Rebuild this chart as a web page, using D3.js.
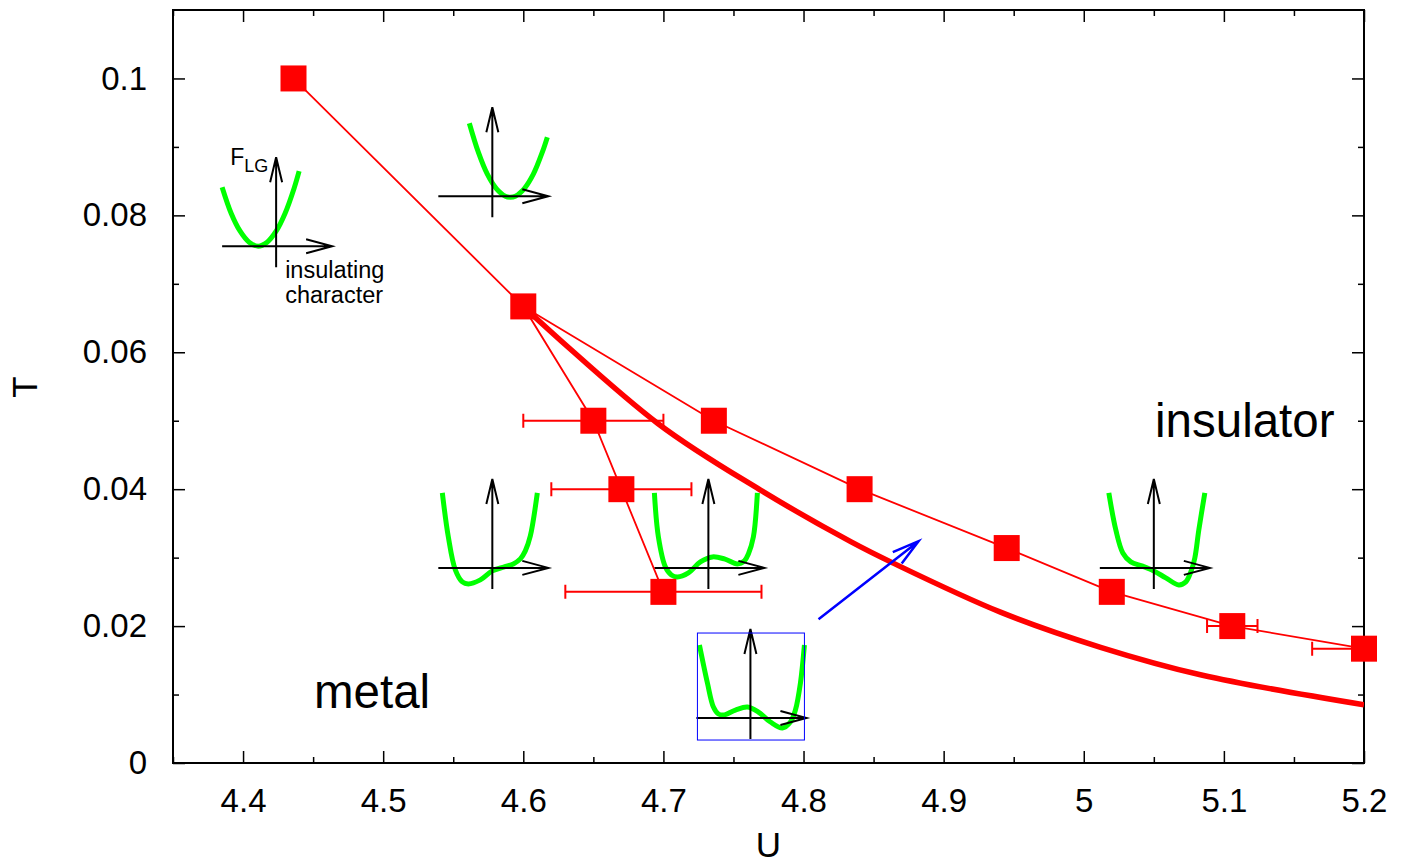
<!DOCTYPE html>
<html>
<head>
<meta charset="utf-8">
<script src="https://cdn.jsdelivr.net/npm/d3@7"></script>
<style>
  body { margin: 0; background: #fff; }
  svg { display: block; font-family: "Liberation Sans", Arial, Helvetica, sans-serif; }
  .tick line { stroke: #000; stroke-width: 1.5; }
  .tick text { fill: #000; }
</style>
</head>
<body>
<div id="chart"></div>
<script>
  // left branch (with error bars)
  const uLeft = [4.436, 4.6, 4.65, 4.67, 4.70];
  const tLeft = [0.1, 0.0667, 0.05, 0.04, 0.025];
  const errLeft = [0, 0, 0.05, 0.05, 0.07];

  // right branch
  const uRight = [4.6, 4.736, 4.84, 4.945, 5.02, 5.106, 5.2];
  const tRight = [0.0667, 0.05, 0.04, 0.0314, 0.025, 0.02, 0.0167];
  const errRight = [0, 0, 0, 0, 0, 0.018, 0.037];

  // thick curve
  const uCurve = [4.6, 4.696, 4.769, 4.834, 4.864, 4.941, 5.012, 5.084, 5.2];
  const tCurve = [0.0667, 0.0496, 0.0399, 0.0323, 0.0292, 0.022, 0.0169, 0.01285, 0.0085];

  const xMajor = [4.4, 4.5, 4.6, 4.7, 4.8, 4.9, 5, 5.1, 5.2];
  const xMinor = [4.35, 4.45, 4.55, 4.65, 4.75, 4.85, 4.95, 5.05, 5.15];
  const yMajor = [0, 0.02, 0.04, 0.06, 0.08, 0.1];
  const yMinor = [0.01, 0.03, 0.05, 0.07, 0.09];

  // little free energy sketches: origin in (U, T), shape in pixel offsets
  const insetU = [4.4236, 4.5779, 4.5779, 4.7321, 4.7621, 5.05];
  const insetT = [0.0755, 0.0828, 0.0285, 0.0285, 0.00657, 0.0285];
  const insetShapes = [
    [[-54,-59],[-45,-33],[-36,-15],[-27,-4],[-18,0],[-9,-4],[0,-15],[9,-33],[18,-58],[23,-75]],
    [[-23,-73],[-14,-44],[-5,-22],[4,-7.6],[13,0],[18,1],[23,0],[32,-7.6],[41,-22],[50,-44],[55,-59]],
    [[-50,-75],[-44,-31],[-37,2],[-30,14],[-24,16],[-12,12],[0,3],[12,-1],[21,-4],[28,-9],[33,-17],[38,-32],[45,-75]],
    [[-54,-75],[-50,-31],[-43,-1],[-37,7],[-31,9],[-20,5],[-8,-6],[4,-11],[16,-9],[29,-4],[36,-7],[40,-14],[45,-31],[49,-75]],
    [[-51,-73],[-43,-35],[-37,-11],[-32,-4],[-27,-3],[-15,-8],[-3,-11],[8,-6],[20,4],[32,10],[40,4],[45,-8],[50,-35],[54,-73]],
    [[-45,-75],[-38,-38],[-31,-15],[-23,-6],[-12,-2],[0,3],[12,10],[25,17],[32,14],[37,4],[41,-10],[45,-38],[51,-75]]
  ];

  // blue arrow, from -> to
  const arrowU = [4.8107, 4.8821];
  const arrowT = [0.021, 0.0324];

  const width = 1407;
  const height = 865;
  const margin = { left: 173, right: 43, top: 10, bottom: 102 };

  const svg = d3.select('#chart').append('svg')
    .attr('width', width)
    .attr('height', height);

  const x = d3.scaleLinear().domain([4.35, 5.2]).range([margin.left, width - margin.right]);
  const y = d3.scaleLinear().domain([0, 0.11]).range([height - margin.bottom, margin.top]);

  const x0 = margin.left, x1 = width - margin.right;
  const y0 = height - margin.bottom, y1 = margin.top;

  svg.append('clipPath').attr('id', 'plot')
    .append('rect').attr('x', x0).attr('y', y1).attr('width', x1 - x0).attr('height', y0 - y1);

  ///////////
  // axes  //
  ///////////
  const fs = 33;
  function style(g) {
    g.select('.domain').remove();
    g.selectAll('text').style('font-size', fs + 'px');
  }

  svg.append('g').attr('transform', `translate(0,${y0})`)
    .call(d3.axisBottom(x).tickValues(xMajor).tickSize(-12).tickPadding(26).tickFormat(d3.format('')))
    .call(style);
  svg.append('g').attr('transform', `translate(0,${y0})`)
    .call(d3.axisBottom(x).tickValues(xMinor).tickSize(-6).tickFormat(''))
    .call(style);
  svg.append('g').attr('transform', `translate(0,${y1})`)
    .call(d3.axisTop(x).tickValues(xMajor).tickSize(-12).tickFormat(''))
    .call(style);
  svg.append('g').attr('transform', `translate(0,${y1})`)
    .call(d3.axisTop(x).tickValues(xMinor).tickSize(-6).tickFormat(''))
    .call(style);

  svg.append('g').attr('transform', `translate(${x0},0)`)
    .call(d3.axisLeft(y).tickValues(yMajor).tickSize(-12).tickPadding(26).tickFormat(d3.format('')))
    .call(style);
  svg.append('g').attr('transform', `translate(${x0},0)`)
    .call(d3.axisLeft(y).tickValues(yMinor).tickSize(-6).tickFormat(''))
    .call(style);
  svg.append('g').attr('transform', `translate(${x1},0)`)
    .call(d3.axisRight(y).tickValues(yMajor).tickSize(-12).tickFormat(''))
    .call(style);
  svg.append('g').attr('transform', `translate(${x1},0)`)
    .call(d3.axisRight(y).tickValues(yMinor).tickSize(-6).tickFormat(''))
    .call(style);

  svg.append('rect')
    .attr('x', x0).attr('y', y1).attr('width', x1 - x0).attr('height', y0 - y1)
    .attr('fill', 'none').attr('stroke', '#000').attr('stroke-width', 2);

  svg.append('text')
    .attr('transform', `translate(37,387) rotate(-90)`)
    .attr('text-anchor', 'middle')
    .style('font-size', '35px')
    .text('T');
  svg.append('text')
    .attr('x', (x0 + x1) / 2).attr('y', 857)
    .attr('text-anchor', 'middle')
    .style('font-size', '35px')
    .text('U');

  ////////////
  // insets //
  ////////////
  const green = d3.line().curve(d3.curveCatmullRom.alpha(0.5));
  insetShapes.forEach((shape, i) => {
    const g = svg.append('g')
      .attr('transform', `translate(${x(insetU[i])},${y(insetT[i])})`);
    g.append('path').attr('d', green(shape))
      .attr('fill', 'none').attr('stroke', '#00ff00').attr('stroke-width', 5);
    const ax = g.append('g').attr('stroke', '#000').attr('stroke-width', 2).attr('fill', 'none');
    ax.append('path').attr('d', 'M-54,0H56M30,-7L56,0L30,7');
    ax.append('path').attr('d', 'M0,21V-89M-6,-64L0,-89L6,-64');
    if (i === 4) {
      g.append('rect').attr('x', -53).attr('y', -85).attr('width', 107).attr('height', 107)
        .attr('fill', 'none').attr('stroke', '#0000ff').attr('stroke-width', 1);
    }
  });

  // F_LG label and axis caption of first inset
  const lab = svg.append('text')
    .attr('x', x(insetU[0]) - 46).attr('y', y(insetT[0]) - 81)
    .style('font-size', '23px');
  lab.append('tspan').text('F');
  lab.append('tspan').attr('dy', 7).style('font-size', '18px').text('LG');
  svg.append('text')
    .attr('x', x(insetU[0]) + 9).attr('y', y(insetT[0]) + 32)
    .style('font-size', '23.5px').text('insulating');
  svg.append('text')
    .attr('x', x(insetU[0]) + 9).attr('y', y(insetT[0]) + 57)
    .style('font-size', '23.5px').text('character');

  ///////////
  // data  //
  ///////////
  const line = d3.line().x(d => x(d[0])).y(d => y(d[1]));
  const leftPts = uLeft.map((u, i) => [u, tLeft[i], errLeft[i]]);
  const rightPts = uRight.map((u, i) => [u, tRight[i], errRight[i]]);
  const curvePts = uCurve.map((u, i) => [u, tCurve[i]]);

  svg.append('path').attr('d', line.curve(d3.curveCatmullRom.alpha(0.5))(curvePts))
    .attr('fill', 'none').attr('stroke', '#ff0000').attr('stroke-width', 5.5)
    .attr('clip-path', 'url(#plot)');
  line.curve(d3.curveLinear);
  [leftPts, rightPts].forEach(pts => {
    svg.append('path').attr('d', line(pts))
      .attr('fill', 'none').attr('stroke', '#ff0000').attr('stroke-width', 1.8);
  });

  const errs = svg.append('g').attr('stroke', '#ff0000').attr('stroke-width', 2)
    .attr('fill', 'none').attr('clip-path', 'url(#plot)');
  leftPts.concat(rightPts).filter(d => d[2] > 0).forEach(d => {
    const a = x(d[0] - d[2]), b = x(d[0] + d[2]), yy = y(d[1]);
    errs.append('path').attr('d', `M${a},${yy}H${b}M${a},${yy - 7}V${yy + 7}M${b},${yy - 7}V${yy + 7}`);
  });

  const sq = 26;
  svg.append('g').selectAll('rect')
    .data(leftPts.concat(rightPts.slice(1)))
    .join('rect')
    .attr('x', d => x(d[0]) - sq / 2)
    .attr('y', d => y(d[1]) - sq / 2)
    .attr('width', sq).attr('height', sq)
    .attr('fill', '#ff0000');

  // blue arrow
  const ax0 = x(arrowU[0]), ay0 = y(arrowT[0]), ax1 = x(arrowU[1]), ay1 = y(arrowT[1]);
  const ang = Math.atan2(ay0 - ay1, ax0 - ax1);
  const hl = 28, ha = 15 * Math.PI / 180;
  svg.append('path')
    .attr('d', `M${ax0},${ay0}L${ax1},${ay1}` +
      `M${ax1 + hl * Math.cos(ang + ha)},${ay1 + hl * Math.sin(ang + ha)}L${ax1},${ay1}` +
      `L${ax1 + hl * Math.cos(ang - ha)},${ay1 + hl * Math.sin(ang - ha)}`)
    .attr('fill', 'none').attr('stroke', '#0000ff').attr('stroke-width', 2.5);

  // phase labels
  svg.append('text').attr('x', 1155).attr('y', 437).style('font-size', '47.5px').text('insulator');
  svg.append('text').attr('x', 314).attr('y', 708).style('font-size', '47.5px').text('metal');
</script>
</body>
</html>
